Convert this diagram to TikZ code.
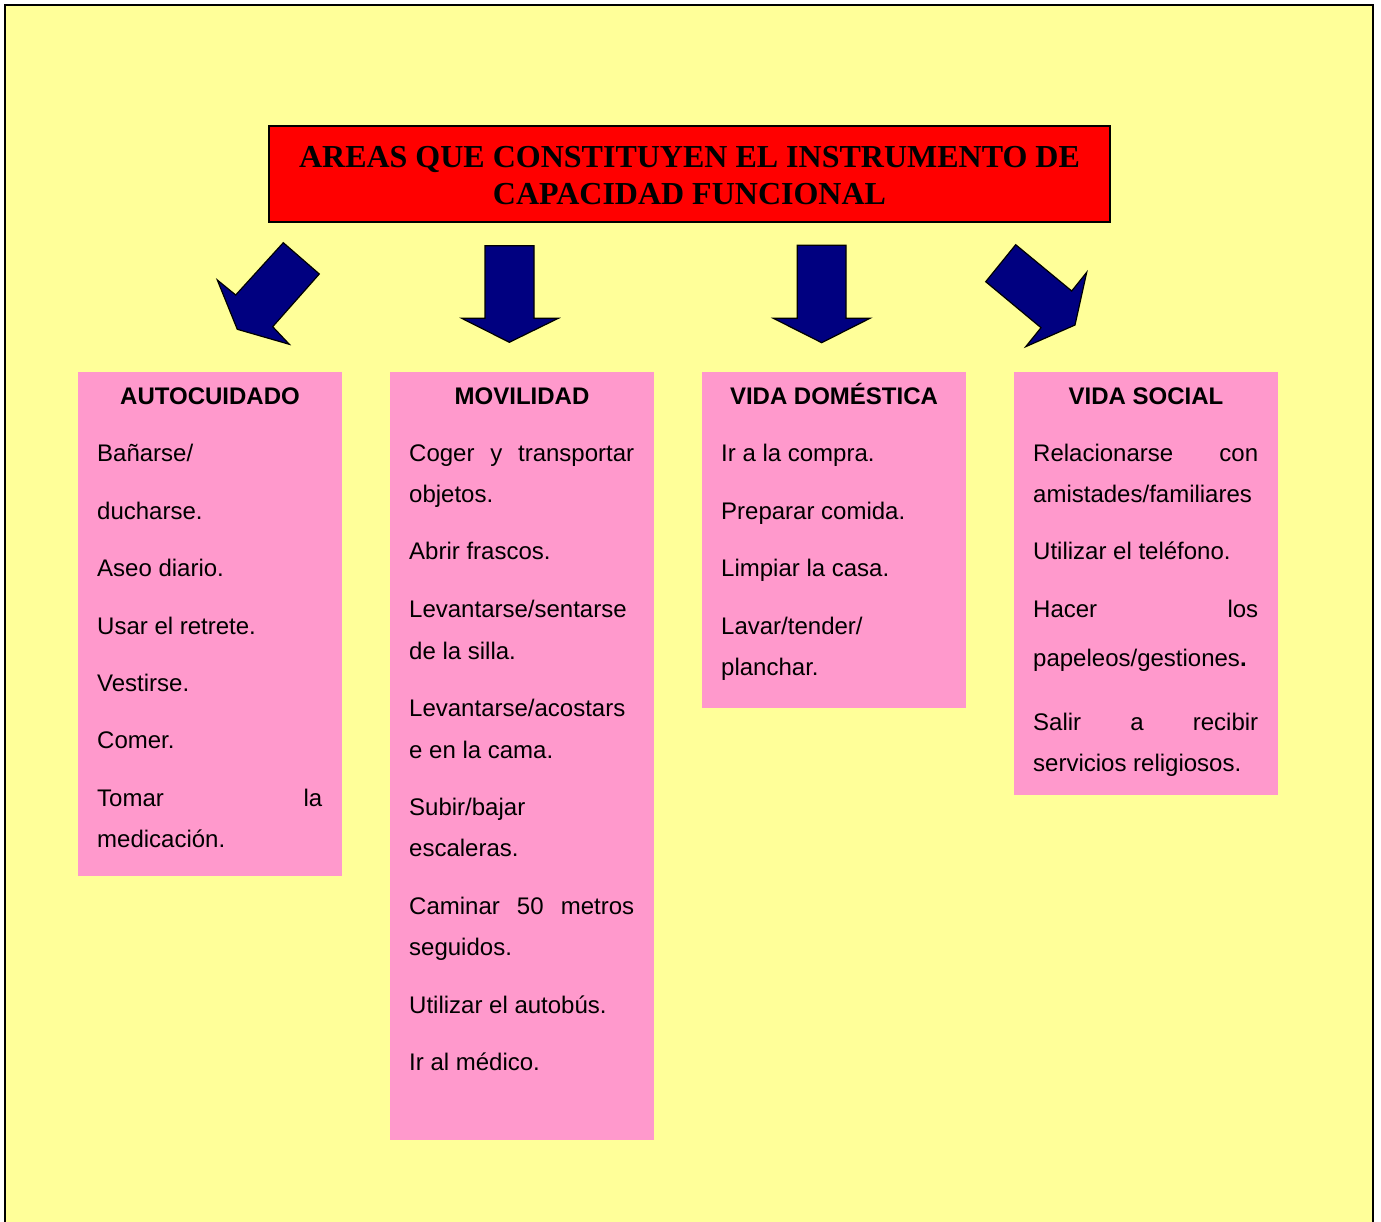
\documentclass[tikz,border=0pt]{standalone}
\usepackage{fontspec}
\setmainfont{Liberation Sans}
\newfontfamily\titlefont{Liberation Serif}
\definecolor{paper}{HTML}{FFFF99}
\definecolor{card}{HTML}{FF99CC}
\definecolor{arrowblue}{HTML}{000080}
\definecolor{banner}{HTML}{FF0000}
\tikzset{
  cardbox/.style={fill=card, draw=none, minimum width=264pt, inner sep=0pt},
  cardhead/.style={anchor=base, inner sep=0pt, font=\fontsize{24}{28}\selectfont\bfseries},
  itemtxt/.style={anchor=base west, inner sep=0pt, font=\fontsize{24}{28}\selectfont},
  blockarrow/.style={fill=arrowblue, draw=black, line width=1.2pt, line join=miter},
}
% one line of item text, and one stretched to the full column width
\newcommand\rowtxt[4]{\node[itemtxt] (#1) at (#2,#3) {#4};}
\newcommand\jrow[4]{\node[itemtxt] (#1) at (#2,#3) {\makebox[225pt][s]{#4}};}
\begin{document}
\begin{tikzpicture}[x=1pt,y=-1pt]
\useasboundingbox (0,0) rectangle (1381,1222);
% sheet
\fill[paper] (5,5) rectangle (1373,1222);
\draw[line width=2.5pt] (5,1222) -- (5,5) -- (1373,5) -- (1373,1222);

% banner
\node[fill=banner, draw=black, line width=1.8pt, minimum width=841pt, minimum height=96pt,
      inner sep=0pt] (title) at (689.5,174) {};
\node[align=center, inner sep=0pt, font=\titlefont\fontsize{32}{37}\selectfont\bfseries]
  (titletext) at ([yshift=-2pt]title.center) {AREAS QUE CONSTITUYEN EL INSTRUMENTO DE\\CAPACIDAD FUNCIONAL};

% block arrows
\filldraw[blockarrow] (283.3,242.7) -- (319.3,274) -- (272.7,326.7) -- (289.3,344.3)
  -- (237.3,329.3) -- (217.3,280) -- (235.7,295) -- cycle;
\filldraw[blockarrow] (485,245.7) -- (534,245.7) -- (534,318.3) -- (558.3,318.3)
  -- (509.3,342.3) -- (461.7,318.3) -- (485,318.3) -- cycle;
\filldraw[blockarrow] (797.3,245.3) -- (846,245.3) -- (846,318.3) -- (870,318.3)
  -- (821.7,342.7) -- (773.3,318.3) -- (797.3,318.3) -- cycle;
\filldraw[blockarrow] (1015.7,244.7) -- (1071.7,291) -- (1086.7,272.3) -- (1075,325)
  -- (1025.7,346.7) -- (1041,327.7) -- (985.7,281.7) -- cycle;

% columns
\node[cardbox, minimum height=504pt] (auto) at (210,624) {};
\node[cardbox, minimum height=768pt] (movi) at (522,756) {};
\node[cardbox, minimum height=336pt] (dome) at (834,540) {};
\node[cardbox, minimum height=423pt] (soci) at (1146,583.5) {};

\node[cardhead] (hauto) at (210,404) {AUTOCUIDADO};
\node[cardhead] (hmovi) at (522,404) {MOVILIDAD};
\node[cardhead] (hdome) at (834,404) {VIDA DOMÉSTICA};
\node[cardhead] (hsoci) at (1146,404) {VIDA SOCIAL};

% Autocuidado
\rowtxt{a1}{97}{461}{Bañarse/}
\rowtxt{a2}{97}{519}{ducharse.}
\rowtxt{a3}{97}{576}{Aseo diario.}
\rowtxt{a4}{97}{634}{Usar el retrete.}
\rowtxt{a5}{97}{691}{Vestirse.}
\rowtxt{a6}{97}{748}{Comer.}
\jrow{a7}{97}{806}{Tomar la}
\rowtxt{a8}{97}{847}{medicación.}

% Movilidad
\jrow{m1}{409}{461}{Coger y transportar}
\rowtxt{m2}{409}{502}{objetos.}
\rowtxt{m3}{409}{559}{Abrir frascos.}
\rowtxt{m4}{409}{617}{Levantarse/sentarse}
\rowtxt{m5}{409}{659}{de la silla.}
\rowtxt{m6}{409}{716}{Levantarse/acostars}
\rowtxt{m7}{409}{758}{e en la cama.}
\rowtxt{m8}{409}{815}{Subir/bajar}
\rowtxt{m9}{409}{856}{escaleras.}
\jrow{m10}{409}{914}{Caminar 50 metros}
\rowtxt{m11}{409}{955}{seguidos.}
\rowtxt{m12}{409}{1013}{Utilizar el autobús.}
\rowtxt{m13}{409}{1070}{Ir al médico.}

% Vida doméstica
\rowtxt{d1}{721}{461}{Ir a la compra.}
\rowtxt{d2}{721}{519}{Preparar comida.}
\rowtxt{d3}{721}{576}{Limpiar la casa.}
\rowtxt{d4}{721}{634}{Lavar/tender/}
\rowtxt{d5}{721}{675}{planchar.}

% Vida social
\jrow{s1}{1033}{461}{Relacionarse con}
\rowtxt{s2}{1033}{502}{amistades/familiares}
\rowtxt{s3}{1033}{559}{Utilizar el teléfono.}
\jrow{s4}{1033}{617}{Hacer los}
\rowtxt{s5}{1033}{666}{papeleos/gestiones{\bfseries .}}
\jrow{s6}{1033}{730}{Salir a recibir}
\rowtxt{s7}{1033}{771}{servicios religiosos.}
\end{tikzpicture}
\end{document}
